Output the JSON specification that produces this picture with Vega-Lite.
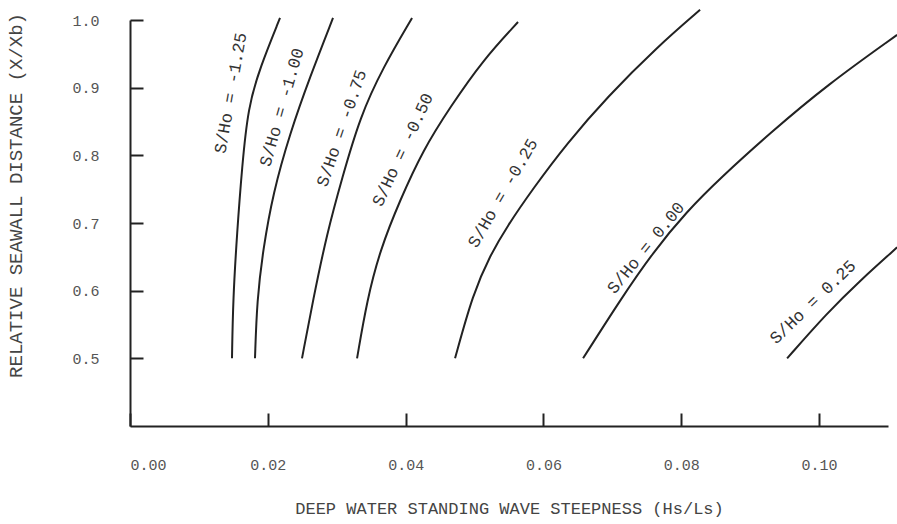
{
  "$schema": "https://vega.github.io/schema/vega-lite/v6.json",
  "width": 758,
  "height": 406,
  "autosize": {"type": "none"},
  "padding": {"left": 130, "top": 20, "right": 9, "bottom": 98},
  "background": "white",
  "config": {"view": {"stroke": null}, "font": "Liberation Mono"},
  "datasets": {
    "curves": [
      {"curve": "-1.25", "steepness": 0.0148, "distance": 0.500},
      {"curve": "-1.25", "steepness": 0.01495, "distance": 0.586},
      {"curve": "-1.25", "steepness": 0.01553, "distance": 0.685},
      {"curve": "-1.25", "steepness": 0.01626, "distance": 0.783},
      {"curve": "-1.25", "steepness": 0.01713, "distance": 0.871},
      {"curve": "-1.25", "steepness": 0.01887, "distance": 0.930},
      {"curve": "-1.25", "steepness": 0.02177, "distance": 1.003},
      {"curve": "-1.00", "steepness": 0.01814, "distance": 0.500},
      {"curve": "-1.00", "steepness": 0.01843, "distance": 0.586},
      {"curve": "-1.00", "steepness": 0.0193, "distance": 0.660},
      {"curve": "-1.00", "steepness": 0.02075, "distance": 0.744},
      {"curve": "-1.00", "steepness": 0.02322, "distance": 0.833},
      {"curve": "-1.00", "steepness": 0.02612, "distance": 0.916},
      {"curve": "-1.00", "steepness": 0.02946, "distance": 1.003},
      {"curve": "-0.75", "steepness": 0.02496, "distance": 0.500},
      {"curve": "-0.75", "steepness": 0.02656, "distance": 0.586},
      {"curve": "-0.75", "steepness": 0.02859, "distance": 0.685},
      {"curve": "-0.75", "steepness": 0.03077, "distance": 0.766},
      {"curve": "-0.75", "steepness": 0.03338, "distance": 0.857},
      {"curve": "-0.75", "steepness": 0.03672, "distance": 0.930},
      {"curve": "-0.75", "steepness": 0.04093, "distance": 1.003},
      {"curve": "-0.50", "steepness": 0.03295, "distance": 0.500},
      {"curve": "-0.50", "steepness": 0.0344, "distance": 0.586},
      {"curve": "-0.50", "steepness": 0.03628, "distance": 0.660},
      {"curve": "-0.50", "steepness": 0.03919, "distance": 0.734},
      {"curve": "-0.50", "steepness": 0.04253, "distance": 0.808},
      {"curve": "-0.50", "steepness": 0.04644, "distance": 0.871},
      {"curve": "-0.50", "steepness": 0.05123, "distance": 0.941},
      {"curve": "-0.50", "steepness": 0.05631, "distance": 0.997},
      {"curve": "-0.25", "steepness": 0.04717, "distance": 0.500},
      {"curve": "-0.25", "steepness": 0.04978, "distance": 0.596},
      {"curve": "-0.25", "steepness": 0.05225, "distance": 0.652},
      {"curve": "-0.25", "steepness": 0.05472, "distance": 0.695},
      {"curve": "-0.25", "steepness": 0.05849, "distance": 0.751},
      {"curve": "-0.25", "steepness": 0.06343, "distance": 0.818},
      {"curve": "-0.25", "steepness": 0.06923, "distance": 0.886},
      {"curve": "-0.25", "steepness": 0.07649, "distance": 0.960},
      {"curve": "-0.25", "steepness": 0.08273, "distance": 1.015},
      {"curve": "0.00", "steepness": 0.06575, "distance": 0.500},
      {"curve": "0.00", "steepness": 0.07112, "distance": 0.586},
      {"curve": "0.00", "steepness": 0.07591, "distance": 0.657},
      {"curve": "0.00", "steepness": 0.08084, "distance": 0.7175},
      {"curve": "0.00", "steepness": 0.08563, "distance": 0.766},
      {"curve": "0.00", "steepness": 0.09289, "distance": 0.833},
      {"curve": "0.00", "steepness": 0.10116, "distance": 0.904},
      {"curve": "0.00", "steepness": 0.11132, "distance": 0.978},
      {"curve": "0.25", "steepness": 0.09536, "distance": 0.500},
      {"curve": "0.25", "steepness": 0.10116, "distance": 0.567},
      {"curve": "0.25", "steepness": 0.10595, "distance": 0.615},
      {"curve": "0.25", "steepness": 0.11132, "distance": 0.664}
    ],
    "labels": [
      {"label": "S/Ho = -1.25", "steepness": 0.01466, "distance": 0.892},
      {"label": "S/Ho = -1.00", "steepness": 0.02206, "distance": 0.871},
      {"label": "S/Ho = -0.75", "steepness": 0.03077, "distance": 0.840},
      {"label": "S/Ho = -0.50", "steepness": 0.03962, "distance": 0.808},
      {"label": "S/Ho = -0.25", "steepness": 0.05414, "distance": 0.744},
      {"label": "S/Ho = 0.00", "steepness": 0.07489, "distance": 0.663},
      {"label": "S/Ho = 0.25", "steepness": 0.09913, "distance": 0.583}
    ]
  },
  "encoding": {
    "x": {
      "field": "steepness", "type": "quantitative",
      "scale": {"domain": [0, 0.11], "nice": false, "zero": false},
      "axis": {
        "title": "DEEP WATER STANDING WAVE STEEPNESS (Hs/Ls)",
        "values": [0, 0.02, 0.04, 0.06, 0.08, 0.1],
        "format": ".2f",
        "grid": false,
        "domainColor": "#222", "domainWidth": 2,
        "tickColor": "#222", "tickWidth": 2, "tickSize": -13,
        "labelFontSize": 15, "labelColor": "#555", "labelPadding": 44,
        "labelFont": "Liberation Mono",
        "titleFont": "Liberation Mono", "titleFontSize": 17, "titleFontWeight": "normal",
        "titleColor": "#444", "titlePadding": 28
      }
    },
    "y": {
      "field": "distance", "type": "quantitative",
      "scale": {"domain": [0.4, 1.0], "nice": false, "zero": false},
      "axis": {
        "title": "RELATIVE SEAWALL DISTANCE (X/Xb)",
        "values": [0.5, 0.6, 0.7, 0.8, 0.9, 1.0],
        "format": ".1f",
        "grid": false,
        "domainColor": "#222", "domainWidth": 2,
        "tickColor": "#222", "tickWidth": 2, "tickSize": -13,
        "labelFontSize": 15, "labelColor": "#555", "labelPadding": 44,
        "labelFont": "Liberation Mono",
        "titleFont": "Liberation Mono", "titleFontSize": 19, "titleFontWeight": "normal",
        "titleColor": "#444", "titleX": -115, "titleY": 175, "titleBaseline": "middle", "titleAlign": "center"
      }
    }
  },
  "layer": [
    {
      "data": {"name": "curves"},
      "mark": {"type": "line", "color": "#222", "strokeWidth": 2, "interpolate": "basis"},
      "encoding": {"detail": {"field": "curve", "type": "nominal"}}
    },
    {"data": {"name": "labels"}, "transform": [{"filter": "datum.label === 'S/Ho = -1.25'"}],
     "mark": {"type": "text", "angle": -80, "fontSize": 17, "color": "#333", "font": "Liberation Mono", "align": "center", "baseline": "middle"},
     "encoding": {"text": {"field": "label"}}},
    {"data": {"name": "labels"}, "transform": [{"filter": "datum.label === 'S/Ho = -1.00'"}],
     "mark": {"type": "text", "angle": -74, "fontSize": 17, "color": "#333", "font": "Liberation Mono", "align": "center", "baseline": "middle"},
     "encoding": {"text": {"field": "label"}}},
    {"data": {"name": "labels"}, "transform": [{"filter": "datum.label === 'S/Ho = -0.75'"}],
     "mark": {"type": "text", "angle": -71, "fontSize": 17, "color": "#333", "font": "Liberation Mono", "align": "center", "baseline": "middle"},
     "encoding": {"text": {"field": "label"}}},
    {"data": {"name": "labels"}, "transform": [{"filter": "datum.label === 'S/Ho = -0.50'"}],
     "mark": {"type": "text", "angle": -65, "fontSize": 17, "color": "#333", "font": "Liberation Mono", "align": "center", "baseline": "middle"},
     "encoding": {"text": {"field": "label"}}},
    {"data": {"name": "labels"}, "transform": [{"filter": "datum.label === 'S/Ho = -0.25'"}],
     "mark": {"type": "text", "angle": -60, "fontSize": 17, "color": "#333", "font": "Liberation Mono", "align": "center", "baseline": "middle"},
     "encoding": {"text": {"field": "label"}}},
    {"data": {"name": "labels"}, "transform": [{"filter": "datum.label === 'S/Ho = 0.00'"}],
     "mark": {"type": "text", "angle": -51, "fontSize": 17, "color": "#333", "font": "Liberation Mono", "align": "center", "baseline": "middle"},
     "encoding": {"text": {"field": "label"}}},
    {"data": {"name": "labels"}, "transform": [{"filter": "datum.label === 'S/Ho = 0.25'"}],
     "mark": {"type": "text", "angle": -44, "fontSize": 17, "color": "#333", "font": "Liberation Mono", "align": "center", "baseline": "middle"},
     "encoding": {"text": {"field": "label"}}}
  ]
}
